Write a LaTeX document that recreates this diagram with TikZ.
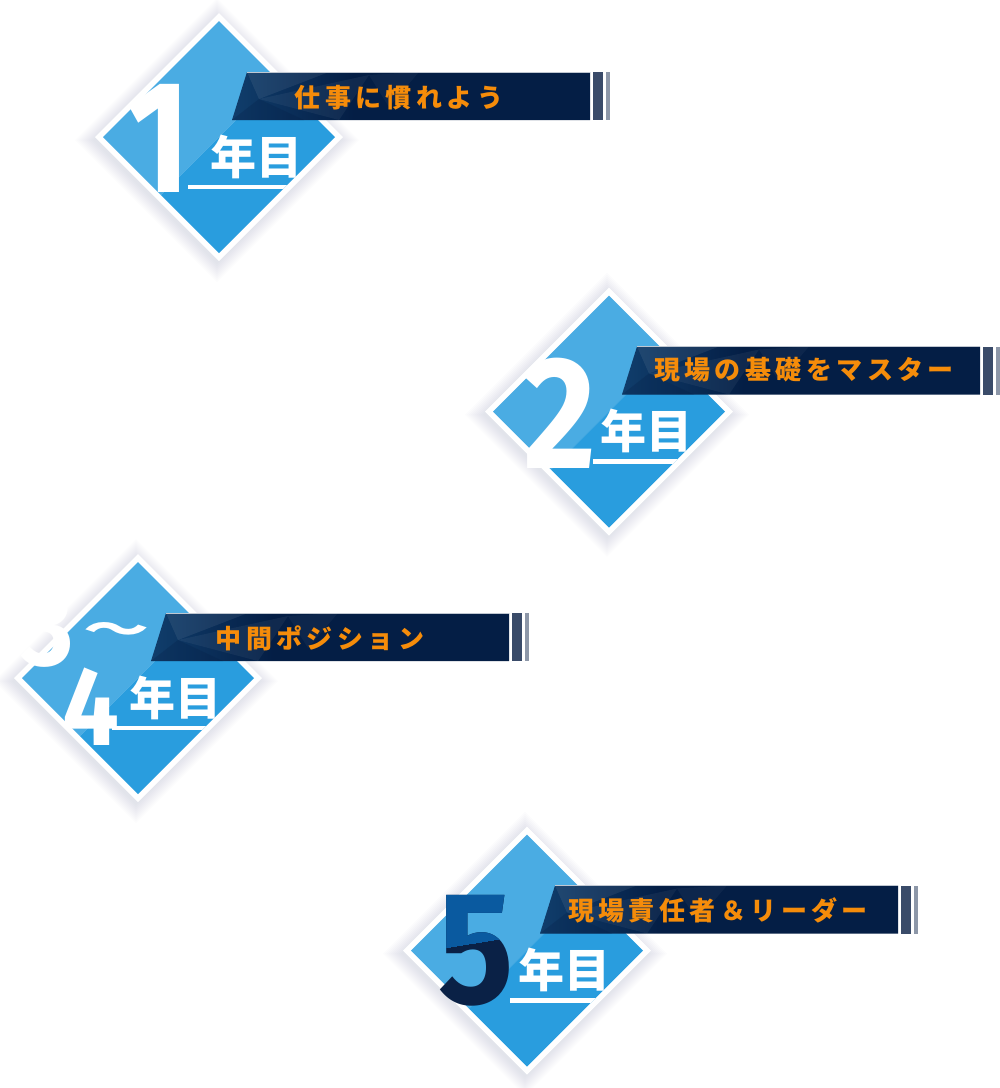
\documentclass[tikz,border=0pt]{standalone}
\usepackage{fontspec}
\newfontfamily\jpfont{Noto Sans CJK JP}
\newfontfamily\jpspaced{Noto Sans CJK JP}[LetterSpace=17]
\newfontfamily\numfont{Fira Sans}
\definecolor{lightb}{RGB}{74,172,227}
\definecolor{darkb}{RGB}{41,157,222}
\definecolor{navy}{RGB}{4,30,69}
\definecolor{barA}{RGB}{58,75,105}
\definecolor{barB}{RGB}{141,151,168}
\definecolor{orng}{RGB}{245,140,10}
\definecolor{bannerblue}{RGB}{26,88,140}
\definecolor{fivedark}{RGB}{10,33,70}
\definecolor{fiveblue}{RGB}{10,90,160}
\definecolor{shadowc}{RGB}{60,64,90}
\pgfdeclarehorizontalshading{bannershade}{100bp}{color(0bp)=(bannerblue); color(20bp)=(bannerblue!70!navy); color(42bp)=(navy); color(100bp)=(navy)}
\tikzset{
  banner text/.style={inner sep=0pt, text=orng, font=\jpspaced\bfseries\fontsize{26}{26}\selectfont},
  year text/.style={inner sep=0pt, text=white, font=\jpfont\bfseries\fontsize{46}{46}\selectfont},
  big num/.style={inner sep=0pt, anchor=base, text=white, font=\numfont\bfseries\fontsize{160}{160}\selectfont},
  mid num/.style={inner sep=0pt, anchor=base, text=white, font=\numfont\bfseries\fontsize{112}{112}\selectfont},
}
% #1 cx, #2 cy, #3 underline start (relative x)
\newcommand\stageshape[3]{%
\begin{scope}[shift={(#1,#2)}]
  \foreach \s in {0,...,9}{
    \pgfmathsetmacro\rr{124+2*\s}
    \fill[shadowc,opacity=0.011] (-2,{3-\rr}) -- ({\rr-2},3) -- (-2,{3+\rr}) -- ({-2-\rr},3) -- cycle;
  }
  \fill[white] (0,-124) -- (124,0) -- (0,124) -- (-124,0) -- cycle;
  \fill[lightb] (-116,0) -- (0,-116) -- (58,-58) -- (-58,58) -- cycle;
  \fill[darkb] (58,-58) -- (116,0) -- (0,116) -- (-58,58) -- cycle;
  \begin{scope}
    \clip (0,-116) -- (116,0) -- (0,116) -- (-116,0) -- cycle;
    \fill[white] (#3,47.5) rectangle (140,52);
  \end{scope}
  \shade[shading=bannershade] (13,-17) -- (28,-65) -- (371,-65) -- (371,-17) -- cycle;
  \fill[white,opacity=0.07] (28,-65) -- (110,-65) -- (40,-38) -- cycle;
  \fill[white,opacity=0.05] (40,-38) -- (150,-62) -- (120,-17) -- cycle;
  \fill[navy,opacity=0.25] (13,-17) -- (40,-38) -- (85,-17) -- cycle;
  \fill[white,opacity=0.04] (150,-62) -- (200,-65) -- (170,-30) -- cycle;
  \draw[white!75!navy,line width=0.7pt] (28,-65) -- (371,-65);
  \fill[barA] (374,-65) rectangle (384,-17);
  \fill[barB] (387,-65) rectangle (391,-17);
\end{scope}}
\begin{document}
\begin{tikzpicture}[x=1pt,y=-1pt]
\useasboundingbox (0,0) rectangle (1000,1088);
\fill[white] (0,0) rectangle (1000,1088);

% stage 1
\stageshape{219}{137}{-31}
\node[big num] (n1) at (159,192) {\scalebox{0.85}[1]{1}};
\node[year text] (y1) at (256.5,156.5) {年目};
\node[banner text] (t1) at (399,98) {仕事に慣れよう};

% stage 2
\stageshape{609}{411.5}{-16}
\node[big num] (n2) at (559.5,468) {\scalebox{0.88}[1]{2}};
\node[year text] (y2) at (646.5,431) {年目};
\node[banner text] (t2) at (804,370) {現場の基礎をマスター};

% stage 3
\stageshape{138}{678}{-26}
\node[mid num] (n3) at (48,665) {\scalebox{0.9}[1]{3}};
\node[inner sep=0pt, text=white, font=\jpfont\bfseries\fontsize{62}{62}\selectfont] (n3t) at (116.5,632.5) {\resizebox{66pt}{21pt}{～}};
\node[mid num] (n4) at (91,745) {\scalebox{0.9}[1]{4}};
\node[year text] (y3) at (175.5,697.5) {年目};
\node[banner text] (t3) at (320,638.5) {中間ポジション};

% stage 4
\stageshape{527}{950.5}{-17}
\node[big num, text=fivedark] (n5) at (476,1003) {\scalebox{0.88}[1]{5}};
\begin{scope}
  \clip (420,880) -- (530,880) -- (530,934) -- (420,952) -- cycle;
  \node[big num, text=fiveblue] (n5b) at (476,1003) {\scalebox{0.88}[1]{5}};
\end{scope}
\node[year text] (y4) at (564.5,970) {年目};
\node[banner text] (t4) at (718,910) {現場責任者＆リーダー};
\end{tikzpicture}
\end{document}
